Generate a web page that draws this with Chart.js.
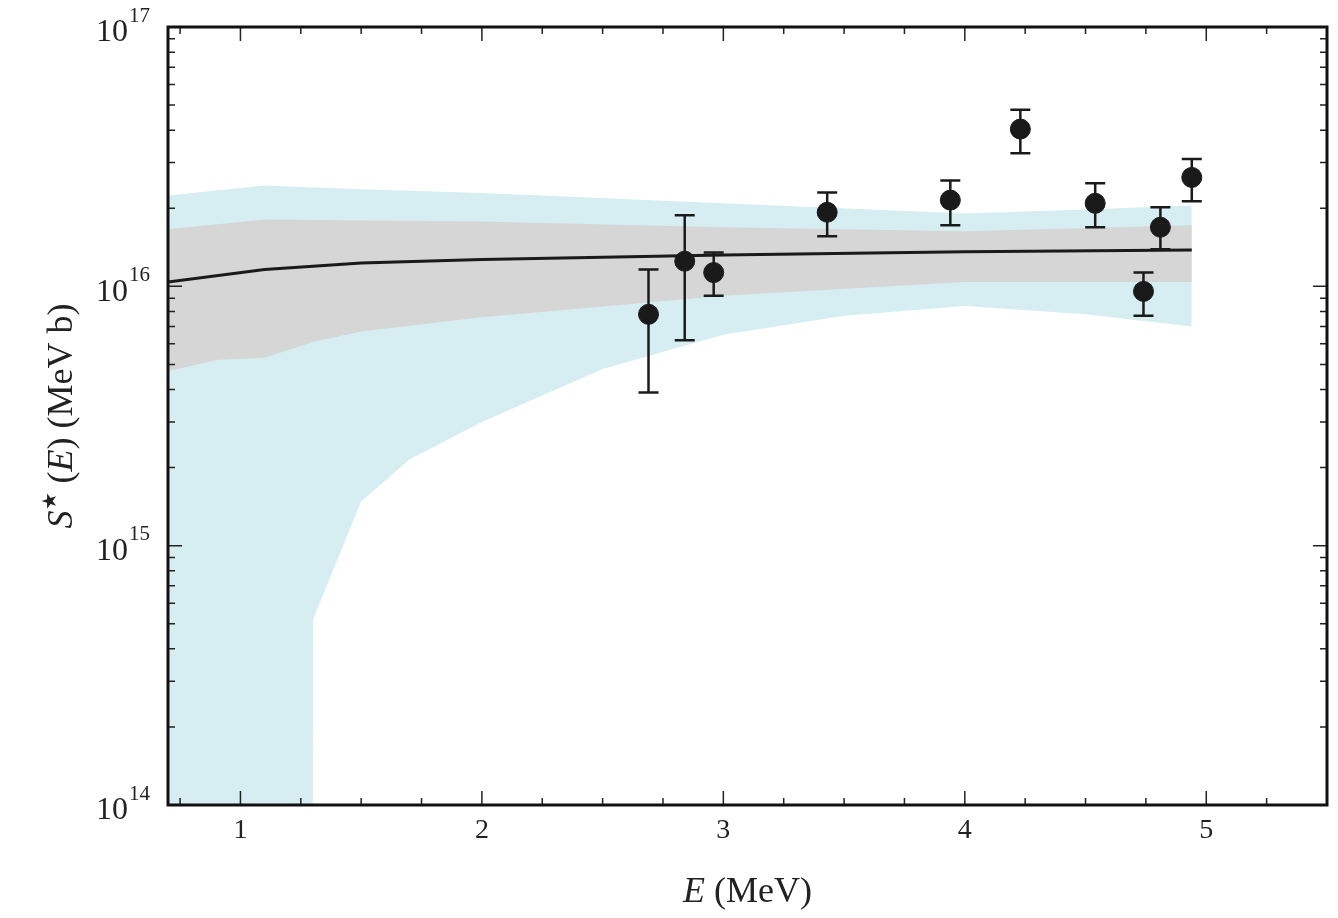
<!DOCTYPE html>
<html>
<head>
<meta charset="utf-8">
<script src="https://cdn.jsdelivr.net/npm/chart.js@4.4.1/dist/chart.umd.min.js"></script>
<style>
  body { margin: 0; background: #fff; }
  #wrap { width: 1338px; height: 918px; }
</style>
</head>
<body>
<div id="wrap"><canvas id="sChart"></canvas></div>
<script>
// measured points
const ptE = [2.69, 2.84, 2.96, 3.43, 3.94, 4.23, 4.54, 4.74, 4.81, 4.94];
const ptS = [7.8e15, 1.25e16, 1.13e16, 1.93e16, 2.15e16, 4.04e16, 2.09e16, 9.56e15, 1.69e16, 2.63e16];
const ptHi = [1.16e16, 1.88e16, 1.35e16, 2.3e16, 2.56e16, 4.8e16, 2.5e16, 1.13e16, 2.02e16, 3.1e16];
const ptLo = [3.9e15, 6.2e15, 9.2e15, 1.56e16, 1.72e16, 3.26e16, 1.69e16, 7.7e15, 1.39e16, 2.13e16];

// fit curve
const fitE = [0.7, 1.1, 1.5, 2, 3, 4, 4.94];
const fitS = [1.04e16, 1.16e16, 1.23e16, 1.27e16, 1.32e16, 1.36e16, 1.38e16];

// grey band
const greyUpE = [0.7, 1.1, 2, 3, 4, 4.94];
const greyUpS = [1.66e16, 1.81e16, 1.78e16, 1.69e16, 1.63e16, 1.72e16];
const greyLoE = [0.7, 0.9, 1.1, 1.3, 1.5, 2, 3, 4, 4.94];
const greyLoS = [4.7e15, 5.2e15, 5.3e15, 6.1e15, 6.7e15, 7.6e15, 9.2e15, 1.04e16, 1.04e16];

// cyan band
const cyanUpE = [0.7, 1.1, 1.5, 2, 3, 4, 4.5, 4.94];
const cyanUpS = [2.24e16, 2.45e16, 2.37e16, 2.29e16, 2.09e16, 1.91e16, 1.98e16, 2.05e16];
const cyanLoE = [0.7, 1.3, 1.301, 1.5, 1.7, 2, 2.5, 3, 3.5, 4, 4.5, 4.94];
const cyanLoS = [1e14, 1e14, 5.2e14, 1.48e15, 2.15e15, 3.0e15, 4.8e15, 6.5e15, 7.7e15, 8.4e15, 7.8e15, 7.0e15];

const xTicks = [1, 2, 3, 4, 5];
const yExps = [14, 15, 16, 17];

const toXY = (xs, ys) => xs.map((x, i) => ({ x: x, y: ys[i] }));
const serif = '"Liberation Serif", "DejaVu Serif", serif';

const framePlugin = {
    id: 'frame',
    afterDatasetsDraw(chart) {
        const ctx = chart.ctx;
        const xs = chart.scales.x, ys = chart.scales.y;
        const a = chart.chartArea;
        ctx.save();
        // error bars
        ctx.strokeStyle = '#1a1a1a';
        ctx.lineWidth = 2.5;
        ptE.forEach((e, i) => {
            const px = xs.getPixelForValue(e);
            const t = ys.getPixelForValue(ptHi[i]);
            const b = ys.getPixelForValue(ptLo[i]);
            ctx.beginPath();
            ctx.moveTo(px, t); ctx.lineTo(px, b);
            ctx.moveTo(px - 10, t); ctx.lineTo(px + 10, t);
            ctx.moveTo(px - 10, b); ctx.lineTo(px + 10, b);
            ctx.stroke();
        });
        // ticks
        ctx.lineWidth = 1.5;
        ctx.strokeStyle = '#222';
        ctx.beginPath();
        for (let v = 0.75; v <= 5.5; v += 0.25) {
            const px = xs.getPixelForValue(v);
            const major = Math.abs(v - Math.round(v)) < 1e-6;
            const len = major ? 14 : 7;
            ctx.moveTo(px, a.bottom); ctx.lineTo(px, a.bottom - len);
            ctx.moveTo(px, a.top); ctx.lineTo(px, a.top + len);
        }
        for (let e = 14; e < 17; e++) {
            for (let m = 1; m <= 9; m++) {
                const py = ys.getPixelForValue(m * Math.pow(10, e));
                const len = m === 1 ? 14 : 7;
                ctx.moveTo(a.left, py); ctx.lineTo(a.left + len, py);
                ctx.moveTo(a.right, py); ctx.lineTo(a.right - len, py);
            }
        }
        ctx.stroke();
        // frame
        ctx.lineWidth = 3;
        ctx.strokeStyle = '#111';
        ctx.strokeRect(a.left, a.top, a.right - a.left, a.bottom - a.top);
        // labels
        ctx.fillStyle = '#222';
        ctx.font = '28px ' + serif;
        ctx.textAlign = 'center';
        ctx.textBaseline = 'top';
        xTicks.forEach(v => ctx.fillText(String(v), xs.getPixelForValue(v), a.bottom + 12));
        yExps.forEach(e => {
            const py = ys.getPixelForValue(Math.pow(10, e));
            ctx.font = '32px ' + serif;
            ctx.textAlign = 'right';
            ctx.textBaseline = 'middle';
            ctx.fillText('10', 128, py + 6);
            ctx.font = '21px ' + serif;
            ctx.textAlign = 'left';
            ctx.fillText(String(e), 129, py - 11);
        });
        // x title
        ctx.textBaseline = 'alphabetic';
        ctx.textAlign = 'left';
        ctx.font = 'italic 36px ' + serif;
        const cx = (a.left + a.right) / 2;
        const w1 = ctx.measureText('E').width;
        ctx.font = '36px ' + serif;
        const w2 = ctx.measureText(' (MeV)').width;
        let sx = cx - (w1 + w2) / 2;
        ctx.font = 'italic 36px ' + serif;
        ctx.fillText('E', sx, 902);
        ctx.font = '36px ' + serif;
        ctx.fillText(' (MeV)', sx + w1, 902);
        // y title
        ctx.translate(60, (a.top + a.bottom) / 2);
        ctx.rotate(-Math.PI / 2);
        const parts = [
            ['italic 36px ', 'S', 0], ['20px ', '\u2605', -16], ['36px ', ' (', 0],
            ['italic 36px ', 'E', 0], ['36px ', ') (MeV b)', 0]
        ];
        let total = 0;
        parts.forEach(p => { ctx.font = p[0] + serif; total += ctx.measureText(p[1]).width; });
        let ox = -total / 2;
        parts.forEach(p => {
            ctx.font = p[0] + serif;
            ctx.fillText(p[1], ox, 12 + p[2]);
            ox += ctx.measureText(p[1]).width;
        });
        ctx.restore();
    }
};

const ctx = document.getElementById('sChart').getContext('2d');
const sChart = new Chart(ctx, {
    type: 'scatter',
    data: {
        datasets: [
            { data: toXY(cyanLoE, cyanLoS), showLine: true, pointRadius: 0, borderWidth: 0, fill: false, order: 6 },
            { data: toXY(cyanUpE, cyanUpS), showLine: true, pointRadius: 0, borderWidth: 0, fill: 0, backgroundColor: '#d6eef2', order: 5 },
            { data: toXY(greyLoE, greyLoS), showLine: true, pointRadius: 0, borderWidth: 0, fill: false, order: 4 },
            { data: toXY(greyUpE, greyUpS), showLine: true, pointRadius: 0, borderWidth: 0, fill: 2, backgroundColor: '#d6d6d6', order: 3 },
            { data: toXY(fitE, fitS), showLine: true, pointRadius: 0, borderWidth: 3, borderColor: '#1a1a1a', fill: false, order: 2 },
            { data: toXY(ptE, ptS), pointRadius: 10, backgroundColor: '#1a1a1a', borderColor: '#1a1a1a', order: 1 }
        ]
    },
    options: {
        responsive: true,
        maintainAspectRatio: false,
        animation: false,
        layout: { padding: { left: 168, right: 8, top: 27, bottom: 113 } },
        plugins: { legend: { display: false }, tooltip: { enabled: false }, filler: { drawTime: 'beforeDatasetsDraw' } },
        scales: {
            x: { type: 'linear', min: 0.7, max: 5.5, display: false },
            y: { type: 'logarithmic', min: 1e14, max: 1e17, display: false }
        }
    },
    plugins: [framePlugin]
});
</script>
</body>
</html>
